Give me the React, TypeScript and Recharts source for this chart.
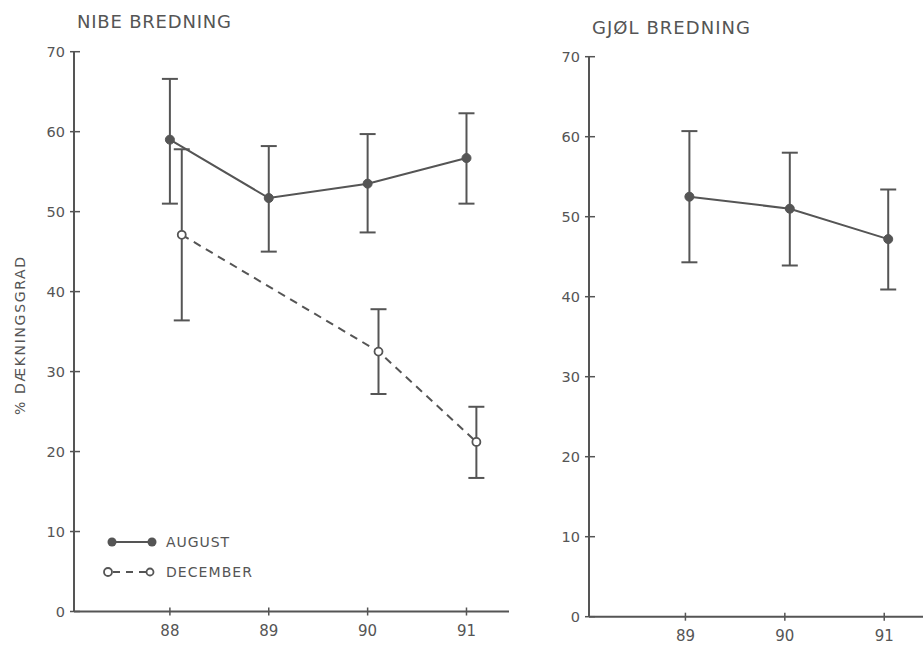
import React from 'react';
import { LineChart, Line, XAxis, YAxis, ErrorBar } from 'recharts';

// ---- data ----
const yTicks = [0, 10, 20, 30, 40, 50, 60, 70];
const nibeYearTicks = [88, 89, 90, 91];
const gjolYearTicks = [89, 90, 91];

const nibeAugustX = [88, 89, 90, 91];
const nibeAugustMean = [59.0, 51.7, 53.5, 56.7];
const nibeAugustLow = [51.0, 45.0, 47.4, 51.0];
const nibeAugustHigh = [66.6, 58.2, 59.7, 62.3];

const nibeDecemberX = [88.12, 90.11, 91.1];
const nibeDecemberMean = [47.1, 32.5, 21.2];
const nibeDecemberLow = [36.4, 27.2, 16.7];
const nibeDecemberHigh = [57.8, 37.8, 25.6];

const gjolAugustX = [89.04, 90.05, 91.04];
const gjolAugustMean = [52.5, 51.0, 47.2];
const gjolAugustLow = [44.3, 43.9, 40.9];
const gjolAugustHigh = [60.7, 58.0, 53.4];

const legendLabels = ['AUGUST', 'DECEMBER'];

const INK = '#555555';
const FONT = '"DejaVu Sans", sans-serif';

type Row = { x: number; y: number; err: [number, number] };
const build = (xs: number[], m: number[], lo: number[], hi: number[]): Row[] =>
  xs.map((x, i) => ({ x, y: m[i], err: [m[i] - lo[i], hi[i] - m[i]] }));

const nibeAugust = build(nibeAugustX, nibeAugustMean, nibeAugustLow, nibeAugustHigh);
const nibeDecember = build(nibeDecemberX, nibeDecemberMean, nibeDecemberLow, nibeDecemberHigh);
const gjolAugust = build(gjolAugustX, gjolAugustMean, gjolAugustLow, gjolAugustHigh);

const Y_MARGIN = 9;
const X_MARGIN = 14;

const YTick = (props: any) => {
  const { x, y, payload } = props;
  return (
    <g>
      <line x1={x + Y_MARGIN - 4} x2={x + Y_MARGIN + 6} y1={y} y2={y} stroke={INK} strokeWidth={1.5} />
      <text x={x} y={y} dy="0.36em" textAnchor="end" fill={INK} fontSize={14.5} fontFamily={FONT}>
        {payload.value}
      </text>
    </g>
  );
};

const XTick = (props: any) => {
  const { x, y, payload } = props;
  return (
    <g>
      <line x1={x} x2={x} y1={y - X_MARGIN - 4} y2={y - X_MARGIN + 4} stroke={INK} strokeWidth={1.5} />
      <text x={x} y={y} dy="0.71em" textAnchor="middle" fill={INK} fontSize={15} fontFamily={FONT}>
        {payload.value}
      </text>
    </g>
  );
};

const LegendBlock = ({ x, y }: { x: number; y: number }) => (
  <g transform={`translate(${x} ${y})`}>
    <line x1={12} x2={52} y1={12} y2={12} stroke={INK} strokeWidth={2} />
    <circle cx={12} cy={12} r={4.5} fill={INK} />
    <circle cx={52} cy={12} r={4.5} fill={INK} />
    <text x={66} y={12} dy="0.36em" fill={INK} fontSize={14} fontFamily={FONT} textLength={63} lengthAdjust="spacing">
      {legendLabels[0]}
    </text>
    <line x1={13} x2={46} y1={42} y2={42} stroke={INK} strokeWidth={2} strokeDasharray="7 6" />
    <circle cx={8} cy={42} r={4} fill="#fff" stroke={INK} strokeWidth={1.8} />
    <circle cx={50} cy={42} r={3.5} fill="#fff" stroke={INK} strokeWidth={1.8} />
    <text x={66} y={42} dy="0.36em" fill={INK} fontSize={14} fontFamily={FONT} textLength={86} lengthAdjust="spacing">
      {legendLabels[1]}
    </text>
  </g>
);

const axisLine = { stroke: INK, strokeWidth: 2 };

export default function App() {
  return (
    <div style={{ position: 'absolute', left: 0, top: 0, width: 923, height: 646, background: '#fff', overflow: 'hidden' }}>
      <div style={{ position: 'absolute', left: 0, top: 0 }}>
        <LineChart width={520} height={646} margin={{ top: 51.7, right: 11, bottom: 5, left: 0 }}>
          <XAxis
            type="number"
            dataKey="x"
            domain={[87.03, 91.43]}
            ticks={nibeYearTicks}
            allowDataOverflow
            axisLine={axisLine}
            tickLine={false}
            tickSize={0}
            tickMargin={X_MARGIN}
            height={29.5}
            tick={<XTick />}
          />
          <YAxis
            type="number"
            domain={[0, 70]}
            ticks={yTicks}
            allowDataOverflow
            width={74}
            axisLine={axisLine}
            tickLine={false}
            tickSize={0}
            tickMargin={Y_MARGIN}
            tick={<YTick />}
            label={{
              content: () => (
                <text
                  x={20}
                  y={336}
                  transform="rotate(-90 20 336)"
                  textAnchor="middle"
                  dy="0.36em"
                  fill={INK}
                  fontSize={14}
                  fontFamily={FONT}
                  textLength={158}
                  lengthAdjust="spacing"
                >
                  % DÆKNINGSGRAD
                </text>
              ),
            }}
          />
          <Line
            data={nibeAugust}
            dataKey="y"
            name="AUGUST"
            stroke={INK}
            strokeWidth={2}
            dot={{ r: 4.5, fill: INK, stroke: INK, strokeWidth: 1 }}
            isAnimationActive={false}
          >
            <ErrorBar dataKey="err" direction="y" width={8} stroke={INK} strokeWidth={2} />
          </Line>
          <Line
            data={nibeDecember}
            dataKey="y"
            name="DECEMBER"
            stroke={INK}
            strokeWidth={2}
            strokeDasharray="8 6"
            dot={{ r: 4, fill: '#fff', stroke: INK, strokeWidth: 1.8, strokeDasharray: 'none' }}
            isAnimationActive={false}
          >
            <ErrorBar dataKey="err" direction="y" width={8} stroke={INK} strokeWidth={2} />
          </Line>
        </LineChart>
      </div>
      <div style={{ position: 'absolute', left: 500, top: 0 }}>
        <LineChart width={423} height={646} margin={{ top: 56.7, right: 0, bottom: 0, left: 0 }}>
          <XAxis
            type="number"
            dataKey="x"
            domain={[88.03, 91.39]}
            ticks={gjolYearTicks}
            allowDataOverflow
            axisLine={axisLine}
            tickLine={false}
            tickSize={0}
            tickMargin={X_MARGIN}
            height={29.3}
            tick={<XTick />}
          />
          <YAxis
            type="number"
            domain={[0, 70]}
            ticks={yTicks}
            allowDataOverflow
            width={89}
            axisLine={axisLine}
            tickLine={false}
            tickSize={0}
            tickMargin={Y_MARGIN}
            tick={<YTick />}
          />
          <Line
            data={gjolAugust}
            dataKey="y"
            name="AUGUST"
            stroke={INK}
            strokeWidth={2}
            dot={{ r: 4.5, fill: INK, stroke: INK, strokeWidth: 1 }}
            isAnimationActive={false}
          >
            <ErrorBar dataKey="err" direction="y" width={8} stroke={INK} strokeWidth={2} />
          </Line>
        </LineChart>
      </div>
      <svg width={923} height={646} style={{ position: 'absolute', left: 0, top: 0, pointerEvents: 'none' }}>
        <text x={77} y={28} fill={INK} fontSize={18} fontFamily={FONT} textLength={154} lengthAdjust="spacing">
          NIBE BREDNING
        </text>
        <text x={592} y={34.3} fill={INK} fontSize={18} fontFamily={FONT} textLength={158} lengthAdjust="spacing">
          GJØL BREDNING
        </text>
        <LegendBlock x={100} y={530} />
      </svg>
    </div>
  );
}
